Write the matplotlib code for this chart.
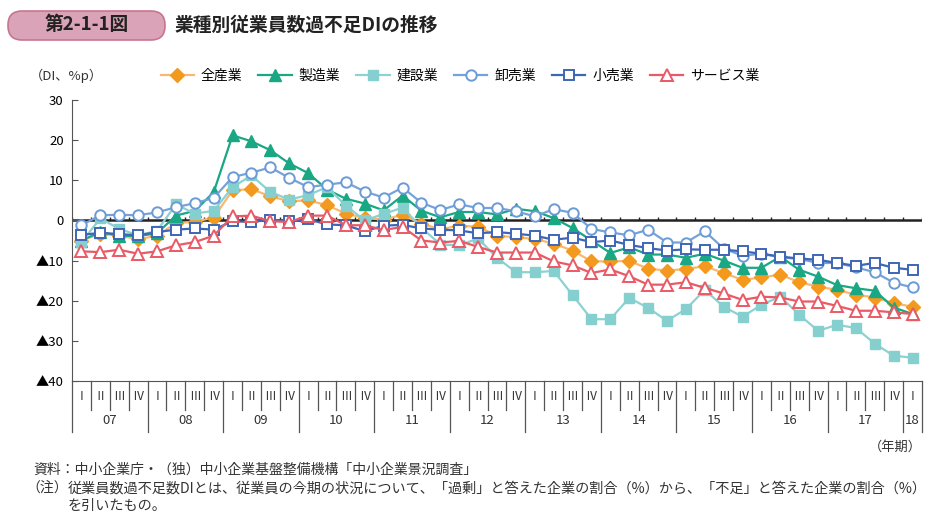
import matplotlib
matplotlib.use("Agg")
import matplotlib.pyplot as plt
import matplotlib.transforms as mtransforms
from matplotlib.patches import FancyBboxPatch
import numpy as np

plt.rcParams["font.family"] = ["Noto Sans CJK JP", "DejaVu Sans"]

# quarterly data 2007 I - 2018 I
years = ["07", "08", "09", "10", "11", "12", "13", "14", "15", "16", "17", "18"]
quarters = ["Ⅰ", "Ⅱ", "Ⅲ", "Ⅳ"]

all_ind = [-5, -3.3, -3.8, -4.7, -3.8, -0.7, -0.3, 0.7, 7.5, 7.8, 6, 4.8, 5, 3.8, 1.7, 0.6,
           0.2, 1.4, -0.8, -2.2, -1.3, -1.6, -3.8, -4.2, -4.6, -5.8, -7.5, -10.2, -10.2, -10.1,
           -12, -12.5, -12.1, -11.4, -13.1, -14.8, -14.2, -13.5, -15.4, -16.5, -17.3, -18.5,
           -19.2, -20.6, -21.5]
manuf = [-5, -2.9, -3.8, -3.9, -3.2, 1.2, 2.4, 7, 21.2, 19.7, 17.5, 14.2, 11.8, 7.7, 5.4, 4.2,
         2.5, 6.2, 2.4, 0.8, 2.1, 2.1, 1.5, 2.9, 2.3, 0.6, -1.9, -5, -8.1, -6.7, -8.5, -8.5,
         -9.3, -8.3, -10, -11.8, -11.8, -9, -12.3, -14, -16.1, -16.9, -17.5, -21.7, -23.3]
constr = [-5.4, 0.5, -2.1, -3.7, -2.6, 4, 1.7, 2.4, 8.3, 11.2, 7.1, 5.2, 6.3, 8.3, 3.7, 0,
          1.6, 3.2, -1.8, -6, -6.2, -4.5, -9.3, -12.9, -12.9, -12.6, -18.6, -24.6, -24.6,
          -19.3, -21.8, -25, -22.1, -17.3, -21.5, -24, -21, -19, -23.5, -27.5, -26, -26.8,
          -30.7, -33.7, -34.2]
whole = [-1.2, 1.3, 1.4, 1.3, 2, 3.3, 4.3, 5.6, 10.8, 11.9, 13.2, 10.6, 8.3, 8.9, 9.5, 7.2,
         5.7, 8.2, 4.4, 2.6, 4, 3.1, 3.1, 2.3, 1.0, 2.8, 1.9, -2.1, -3, -3.7, -2.3, -5.5, -5.5,
         -2.7, -7, -8.8, -8.3, -9.2, -9.6, -10.6, -10.6, -11.7, -12.9, -15.5, -16.7]
retail = [-3.6, -3.1, -3.4, -3.7, -2.9, -2.3, -2, -2.3, -0.2, -0.4, 0.2, -0.2, 0.3, -1, -1.2,
          -2.7, -1.3, -1.1, -2, -2.3, -2.5, -3.2, -2.9, -3.3, -3.8, -4.8, -4.3, -5.4, -5, -6.1,
          -6.9, -7.5, -7.2, -7.3, -7.3, -7.7, -8.3, -9, -9.5, -9.8, -10.6, -11.3, -10.6, -11.8,
          -12.3]
service = [-7.7, -7.9, -7.3, -8.3, -7.7, -6.2, -5.4, -3.8, 1, 1.2, -0.2, -0.4, 1.2, 1.2, -1.2,
           -1.2, -2.4, -1.6, -5, -5.5, -5.1, -6.6, -8, -8, -8, -10.2, -11.2, -13.1, -12.2, -13.9,
           -16, -16, -15.4, -16.8, -18.2, -19.8, -19, -19.2, -20.2, -20.2, -21.3, -22.5, -22.5,
           -22.9, -23.3]

W, H = 930, 520
fig = plt.figure(figsize=(W / 100, H / 100), dpi=100)
ax = fig.add_axes([72 / W, (H - 381) / H, (922 - 72) / W, (381 - 100) / H])

x = np.arange(len(all_ind))
series = [
    ("全産業", all_ind, dict(color="#f8b872", marker="D", ms=7, mfc="#f39a1e", mec="#f39a1e")),
    ("製造業", manuf, dict(color="#1aa783", marker="^", ms=8, mfc="#1aa783", mec="#1aa783")),
    ("建設業", constr, dict(color="#8dd2d2", marker="s", ms=7.5, mfc="#86cfcf", mec="#86cfcf")),
    ("卸売業", whole, dict(color="#76a2da", marker="o", ms=7.5, mfc="white", mec="#6b9bd6", mew=1.4)),
    ("小売業", retail, dict(color="#3f66b6", marker="s", ms=7, mfc="white", mec="#3f66b6", mew=1.4)),
    ("サービス業", service, dict(color="#ea5a66", marker="^", ms=8, mfc="white", mec="#ea5a66", mew=1.4)),
]
handles = []
for name, vals, st in series:
    h, = ax.plot(x, vals, lw=1.6, label=name, **st)
    handles.append(h)

ax.set_xlim(-0.5, len(x) - 0.5)
ax.set_ylim(-40, 30)
ax.set_yticks(np.arange(-40, 31, 10))
ax.set_yticklabels(["▲40", "▲30", "▲20", "▲10", "0", "10", "20", "30"], fontsize=9.5)
ax.tick_params(axis="y", direction="in", length=4, pad=6, color="#555555")
ax.set_xticks([])
ax.spines[["top", "right"]].set_visible(False)
ax.spines["left"].set_color("#555555")
ax.spines["bottom"].set_color("#555555")

# zero line with small quarter ticks
ax.axhline(0, color="#222222", lw=1.8, zorder=1)
ax.vlines(np.arange(len(x) + 1) - 0.5, 0, 0.8, color="#222222", lw=1, zorder=1)

# category table below the plot
trans = mtransforms.blended_transform_factory(ax.transData, ax.transAxes)
ph = 281.0
for k in range(len(x) + 1):
    depth = 51 if (k % 4 == 0 or k == len(x)) else 29
    ax.plot([k - 0.5, k - 0.5], [0, -depth / ph], color="#555555", lw=0.9,
            transform=trans, clip_on=False)
for i in range(len(x)):
    ax.text(i, -16 / ph, quarters[i % 4], transform=trans, ha="center", va="center",
            fontsize=8.5, color="#333333")
for j, yr in enumerate(years):
    xc = 4 * j + 1.5 if j < len(years) - 1 else 44
    ax.text(xc, -40 / ph, yr, transform=trans, ha="center", va="center",
            fontsize=9.5, color="#333333")

# legend
fig.legend(handles=handles, loc="center left", bbox_to_anchor=(148 / W, 1 - 76 / H),
           ncol=6, frameon=False, fontsize=10, handlelength=2.4, handletextpad=0.5,
           columnspacing=1.15)

# title badge
badge = FancyBboxPatch((8, H - 40), 157, 29, boxstyle="round,pad=0,rounding_size=14",
                       transform=mtransforms.IdentityTransform(), fc="#dba3b7", ec="#c7758f",
                       lw=1.2)
fig.add_artist(badge)
fig.text(87 / W, 1 - 25 / H, "第2-1-1図", ha="center", va="center", fontsize=13.5,
         fontweight="bold", color="#222222")
fig.text(175 / W, 1 - 25 / H, "業種別従業員数過不足DIの推移", ha="left", va="center",
         fontsize=13.5, fontweight="bold", color="#222222")

fig.text(30 / W, 1 - 76 / H, "（DI、%p）", ha="left", va="center", fontsize=9.5, color="#333333")
fig.text(922 / W, 1 - 447 / H, "（年期）", ha="right", va="center", fontsize=9.5, color="#333333")

fig.text(33 / W, 1 - 470 / H, "資料：中小企業庁・（独）中小企業基盤整備機構「中小企業景況調査」",
         ha="left", va="center", fontsize=10, color="#333333")
fig.text(26 / W, 1 - 488 / H, "（注）", ha="left", va="center", fontsize=10, color="#333333")
fig.text(68 / W, 1 - 488 / H,
         "従業員数過不足数DIとは、従業員の今期の状況について、「過剰」と答えた企業の割合（%）から、「不足」と答えた企業の割合（%）",
         ha="left", va="center", fontsize=10.2, color="#333333")
fig.text(68 / W, 1 - 506 / H, "を引いたもの。", ha="left", va="center", fontsize=10.2,
         color="#333333")

fig.savefig("out.png", dpi=100)
